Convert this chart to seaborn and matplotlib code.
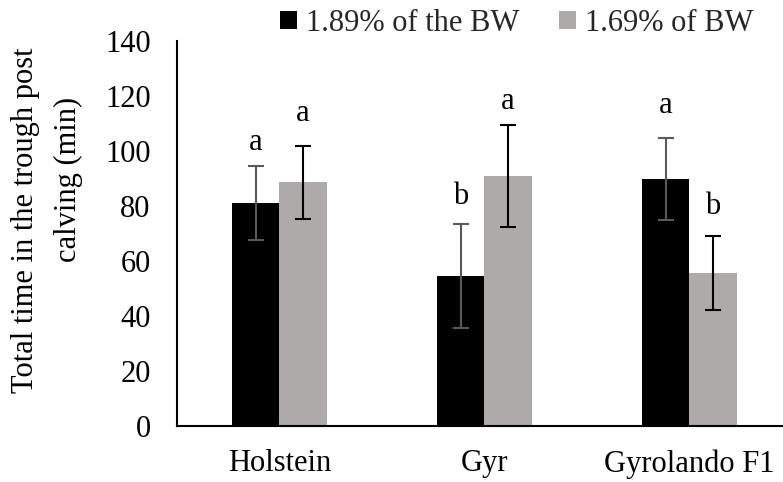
import matplotlib
matplotlib.use("Agg")
import matplotlib.pyplot as plt
import seaborn as sns
import pandas as pd

categories = ["Holstein", "Gyr", "Gyrolando F1"]
series_names = ["1.89% of the BW", "1.69% of BW"]
values_189 = [81.1, 54.5, 89.9]
values_169 = [88.6, 90.8, 55.6]
err_189 = [13.5, 19.0, 15.0]
err_169 = [13.3, 18.6, 13.4]
letters_189 = ["a", "b", "a"]
letters_169 = ["a", "a", "b"]
letter_y_189 = [102.9, 83.4, 116.7]
letter_y_169 = [113.8, 117.9, 79.7]
y_ticks = [0, 20, 40, 60, 80, 100, 120, 140]
ylabel_lines = ["Total time in the trough post", "calving (min)"]

df = pd.DataFrame({
    "cat": categories * 2,
    "series": [series_names[0]] * 3 + [series_names[1]] * 3,
    "val": values_189 + values_169,
})

sns.set_theme(style="white")
plt.rcParams["font.family"] = ["Liberation Serif", "DejaVu Serif"]
FS = 22

fig = plt.figure(figsize=(7.83, 4.82), dpi=100)
ax = fig.add_axes([0.226, 0.1168, 0.7854, 0.798])

bar_colors = ["#000000", "#AEAAAA"]
err_colors = ["#595959", "#000000"]
sns.barplot(data=df, x="cat", y="val", hue="series", order=categories,
            hue_order=series_names, palette=bar_colors, width=0.463,
            saturation=1, errorbar=None, ax=ax, legend=True, linewidth=0)

errs = [err_189, err_169]
letters = [letters_189, letters_169]
letter_ys = [letter_y_189, letter_y_169]
vals = [values_189, values_169]
bar_containers = list(ax.containers)
for i, cont in enumerate(bar_containers):
    for j, bar in enumerate(list(cont)):
        xc = bar.get_x() + bar.get_width() / 2
        ax.errorbar(xc, vals[i][j], yerr=errs[i][j], fmt="none",
                    ecolor=err_colors[i], elinewidth=1.5, capsize=6,
                    capthick=1.5, zorder=5)
        ax.text(xc, letter_ys[i][j], letters[i][j], ha="center", va="center",
                fontsize=FS, color="black")

ax.set_xlim(-0.5, 2.5)
ax.set_ylim(0, 140)
ax.set_yticks(y_ticks)
ax.set_yticklabels([str(t) for t in y_ticks])
ax.set_xlabel("")
ax.set_ylabel("")
ax.text(-0.247, 0.535, ylabel_lines[0], transform=ax.transAxes, rotation=90,
        ha="center", va="center", fontsize=FS, color="black")
ax.text(-0.177, 0.639, ylabel_lines[1], transform=ax.transAxes, rotation=90,
        ha="center", va="center", fontsize=FS, color="black")
ax.tick_params(axis="y", length=0, pad=19, labelsize=FS, colors="black")
ax.tick_params(axis="x", length=0, pad=17, labelsize=FS, colors="black")
for s in ["top", "right"]:
    ax.spines[s].set_visible(False)
for s in ["left", "bottom"]:
    ax.spines[s].set_color("black")
    ax.spines[s].set_linewidth(1.5)
ax.grid(False)

leg = ax.get_legend()
if leg is not None:
    leg.remove()
handles, labels = ax.get_legend_handles_labels()
fig.legend(handles, labels, loc="center", bbox_to_anchor=(0.66, 0.952),
           ncol=2, frameon=False, fontsize=FS, handlelength=0.55,
           handleheight=0.55, handletextpad=0.3, columnspacing=1.3,
           borderpad=0)

fig.savefig("out.png", dpi=100)
